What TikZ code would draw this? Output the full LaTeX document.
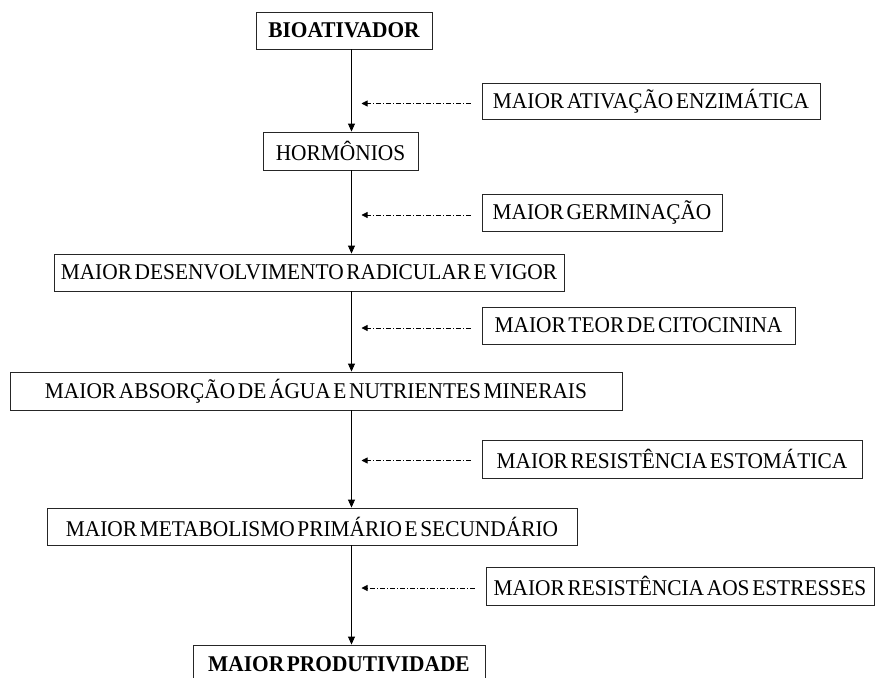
\documentclass[tikz,border=0pt]{standalone}
\usepackage{fontspec}
\setmainfont{Liberation Serif}[WordSpace=0.5,FakeStretch=0.95]
\usetikzlibrary{arrows.meta}

\begin{document}
\begin{tikzpicture}[x=1pt,y=-1pt,
	box/.style={draw=black!85,line width=0.9pt,inner sep=0pt,minimum height=37pt,font=\fontsize{22.5}{25}\selectfont},
	bold/.style={font=\fontsize{22.5}{25}\selectfont\bfseries},
	down/.style={-{Triangle[length=8pt,width=7pt]},line width=0.9pt},
	side/.style={-{Triangle[length=6pt,width=6pt]},line width=0.8pt,dash pattern=on 5pt off 2pt on 1pt off 2pt,shorten <=11pt,shorten >=10pt}]
		\clip (0,0) rectangle (883,677);
		\coordinate (axis) at (351.5,0);
		\node [box,bold,minimum width=176pt](bio)at (344,30.5) {BIOATIVADOR};
		\node [box,minimum width=155pt,minimum height=38pt](hor)at (340.5,151) {HORMÔNIOS};
		\node [box,minimum width=510pt](des)at (309,272.5) {MAIOR DESENVOLVIMENTO RADICULAR E VIGOR};
		\node [box,minimum width=612pt,minimum height=38pt](abs)at (316,391) {MAIOR ABSORÇÃO DE ÁGUA E NUTRIENTES MINERAIS};
		\node [box,minimum width=530pt](met)at (312,526.5) {MAIOR METABOLISMO PRIMÁRIO E SECUNDÁRIO};
		\node [box,bold,minimum width=292pt,minimum height=38pt](pro)at (339,664) {MAIOR PRODUTIVIDADE};
		\node [box,minimum width=338pt,minimum height=36pt](s1)at (651,101) {MAIOR ATIVAÇÃO ENZIMÁTICA};
		\node [box,minimum width=240pt](s2)at (602,212.5) {MAIOR GERMINAÇÃO};
		\node [box,minimum width=313pt](s3)at (638.5,325.5) {MAIOR TEOR DE CITOCININA};
		\node [box,minimum width=380pt,minimum height=38pt](s4)at (672,459) {MAIOR RESISTÊNCIA ESTOMÁTICA};
		\node [box,minimum width=388pt,minimum height=38pt](s5)at (680,586) {MAIOR RESISTÊNCIA AOS ESTRESSES};
		\draw [down](bio.south -| axis)--(hor.north -| axis);
		\draw [down](hor.south -| axis)--(des.north -| axis);
		\draw [down](des.south -| axis)--(abs.north -| axis);
		\draw [down](abs.south -| axis)--(met.north -| axis);
		\draw [down](met.south -| axis)--(pro.north -| axis);
		\draw [side]([yshift=-2.5pt]s1.west)--([yshift=-2.5pt]s1.west -| axis);
		\draw [side]([yshift=-2.5pt]s2.west)--([yshift=-2.5pt]s2.west -| axis);
		\draw [side]([yshift=-2.5pt]s3.west)--([yshift=-2.5pt]s3.west -| axis);
		\draw [side]([yshift=-1.5pt]s4.west)--([yshift=-1.5pt]s4.west -| axis);
		\draw [side]([yshift=-2pt]s5.west)--([yshift=-2pt]s5.west -| axis);
	\end{tikzpicture}
\end{document}
